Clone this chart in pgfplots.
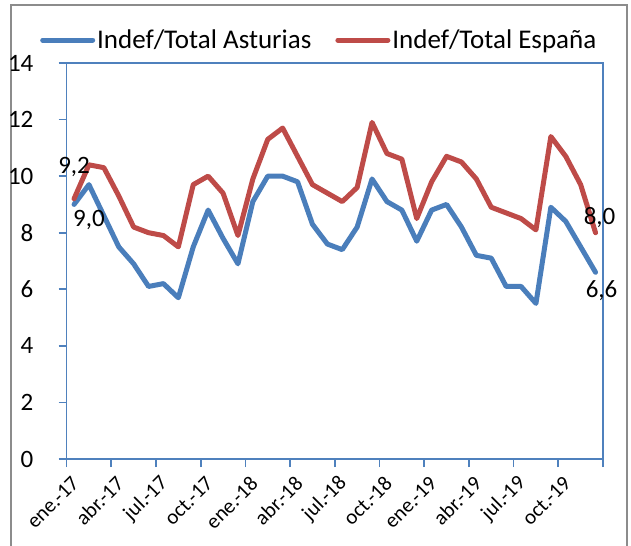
\documentclass[border=0pt]{standalone}
\usepackage{fontspec}
\setmainfont{Carlito}
\usepackage{pgfplots}
\usepackage{pgfplotstable}
\pgfplotsset{compat=1.18}
\definecolor{serieA}{HTML}{4A7EBB}
\definecolor{serieB}{HTML}{BE4B48}
\definecolor{axisblue}{HTML}{4F81BD}
\definecolor{framegray}{HTML}{8C8C8C}

\pgfplotstableread{
x ast esp
0.5 9.0 9.2
1.5 9.7 10.4
2.5 8.6 10.3
3.5 7.5 9.3
4.5 6.9 8.2
5.5 6.1 8.0
6.5 6.2 7.9
7.5 5.7 7.5
8.5 7.5 9.7
9.5 8.8 10.0
10.5 7.8 9.4
11.5 6.9 7.9
12.5 9.1 9.9
13.5 10.0 11.3
14.5 10.0 11.7
15.5 9.8 10.7
16.5 8.3 9.7
17.5 7.6 9.4
18.5 7.4 9.1
19.5 8.2 9.6
20.5 9.9 11.9
21.5 9.1 10.8
22.5 8.8 10.6
23.5 7.7 8.5
24.5 8.8 9.8
25.5 9.0 10.7
26.5 8.2 10.5
27.5 7.2 9.9
28.5 7.1 8.9
29.5 6.1 8.7
30.5 6.1 8.5
31.5 5.5 8.1
32.5 8.9 11.4
33.5 8.4 10.7
34.5 7.5 9.7
35.5 6.6 8.0
}\datatable

\begin{document}
\begin{tikzpicture}
\path[use as bounding box] (0bp,0bp) rectangle (631bp,546bp);
\draw[framegray, line width=2bp] (11bp,-5bp) -- (11bp,541bp) -- (627bp,541bp) -- (627bp,-5bp);
\begin{axis}[
  at={(66.6bp,87bp)}, anchor=south west,
  scale only axis, width=536.4bp, height=396bp,
  xmin=0, xmax=36, ymin=0, ymax=14,
  xtick={0,3,...,36},
  xticklabels={ene.-17,abr.-17,jul.-17,oct.-17,ene.-18,abr.-18,jul.-18,oct.-18,ene.-19,abr.-19,jul.-19,oct.-19,{}},
  ytick={0,2,...,14},
  tick align=outside,
  xtick pos=left, ytick pos=left,
  major tick length=8bp,
  axis line style={axisblue, line width=1.75bp},
  every tick/.style={axisblue, line width=1.75bp},
  /pgf/number format/assume math mode=true,
  yticklabel style={font=\fontsize{25bp}{30bp}\selectfont, anchor=east, inner sep=0pt, xshift=-25bp},
  xticklabel style={font=\fontsize{21bp}{25bp}\selectfont, inner sep=0pt, rotate=45, anchor=east, xshift=-2.8bp, yshift=-15.5bp},
  legend columns=2,
  legend cell align=left,
  legend style={at={(-0.0496,1.058)}, anchor=west, draw=none, fill=none, inner sep=0pt,
    font=\fontsize{27bp}{32bp}\selectfont,
    nodes={inner sep=2bp},
    /tikz/every even column/.append style={column sep=22bp}},
  legend image code/.code={\draw[#1] (2.5bp,0bp) -- (52.5bp,0bp);},
  every axis plot/.append style={line join=round, line cap=round},
]
\addplot[serieA, line width=5bp] table[x=x, y=ast] {\datatable};
\addlegendentry{Indef/Total Asturias}
\addplot[serieB, line width=5bp] table[x=x, y=esp] {\datatable};
\addlegendentry{Indef/Total España}

\pgfplotsset{lbl/.style={forget plot, draw=none, mark=none, nodes near coords,
   /pgf/number format/.cd, use comma, fixed, fixed zerofill, precision=1, /pgfplots/.cd,
   every node near coord/.append style={font=\fontsize{25bp}{30bp}\selectfont, inner sep=0pt, black, #1}}}
\addplot[lbl={anchor=base, yshift=25bp}] coordinates {(0.5,9.2)};
\addplot[lbl={anchor=base west, xshift=-1bp, yshift=-22bp}] coordinates {(0.5,9.0)};
\addplot[lbl={anchor=base west, xshift=-12bp, yshift=8bp}] coordinates {(35.5,8.0)};
\addplot[lbl={anchor=base west, xshift=-10bp, yshift=-25bp}] coordinates {(35.5,6.6)};
\end{axis}
\end{tikzpicture}
\end{document}
